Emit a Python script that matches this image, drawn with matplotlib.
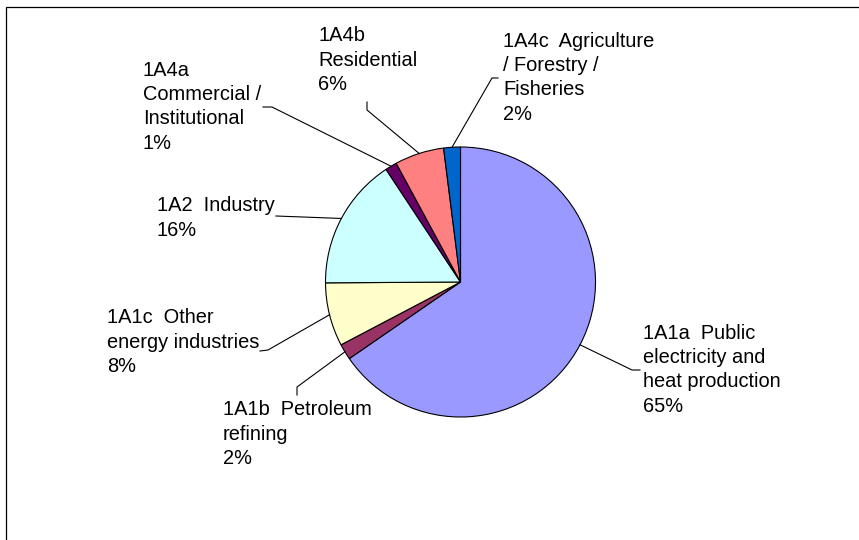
import numpy as np
import matplotlib.pyplot as plt
from matplotlib.patches import Rectangle

plt.rcParams['font.family'] = ['Liberation Sans', 'DejaVu Sans']

W, H = 859, 540

sectors = ["1A1a  Public\nelectricity and\nheat production",
           "1A1b  Petroleum\nrefining",
           "1A1c  Other\nenergy industries",
           "1A2  Industry",
           "1A4a\nCommercial /\nInstitutional",
           "1A4b\nResidential",
           "1A4c  Agriculture\n/ Forestry /\nFisheries"]
shares = [65.4, 1.9, 7.6, 15.8, 1.4, 5.9, 2.0]
colors = ["#9999FF", "#993366", "#FFFFCC", "#CCFFFF", "#660066", "#FF8080", "#0066CC"]

# label anchor (left, first baseline) and leader elbows, in pixels from top-left
label_xy = [(643, 341), (223, 417), (107, 325), (157, 212), (143, 78), (318, 43), (503, 49)]
leaders = [[(640, 370), (632, 370)],
           [(297, 395), (297, 387)],
           [(260, 351), (268, 350)],
           [(276, 216)],
           [(263, 107), (272, 107)],
           [(367, 102), (367, 110)],
           [(498, 78), (492, 78)]]
line_step = 23.6

cx, cy, r = 460.5, H - 282, 135

fig = plt.figure(figsize=(W / 100, H / 100), dpi=100)
ax = fig.add_axes([0, 0, 1, 1])

# chart area border
ax.add_patch(Rectangle((6, -20), W + 40, H - 7 + 20, fill=False, edgecolor='black', lw=0.9))

wedges, _ = ax.pie(shares, colors=colors, startangle=90, counterclock=False,
                   center=(cx, cy), radius=r, frame=True,
                   wedgeprops=dict(edgecolor='black', linewidth=0.8))
ax.set_xlim(0, W)
ax.set_ylim(0, H)
ax.set_aspect('equal')
ax.axis('off')

for w, name, v, (tx, ty), elbow in zip(wedges, sectors, shares, label_xy, leaders):
    ang = np.deg2rad((w.theta1 + w.theta2) / 2)
    edge = (cx + r * np.cos(ang), cy + r * np.sin(ang))
    pts = [(x, H - y) for x, y in elbow] + [edge]
    ax.plot([p[0] for p in pts], [p[1] for p in pts], color='black', lw=0.8)
    text = f"{name}\n{round(v)}%"
    # baseline alignment sits on the last line
    last = ty + (text.count("\n")) * line_step
    ax.text(tx, H - last, text, fontsize=14.4, ha='left', va='baseline',
            linespacing=1.36, color='black')

fig.savefig('out.png', dpi=100)
